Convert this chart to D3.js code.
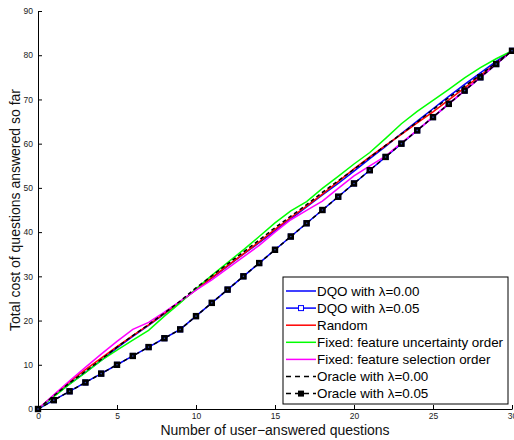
<!DOCTYPE html>
<html><head><meta charset="utf-8">
<script src="https://cdn.jsdelivr.net/npm/d3@7"></script>
<style>body{margin:0;background:#fff}svg{display:block}</style>
</head><body>
<script>
const xs = d3.range(0, 31);
const dqo00 = [0,2.9,5.7,8.3,11.0,13.8,16.4,18.9,21.5,24.2,27.0,29.6,32.3,35.0,37.6,40.3,43.0,45.7,48.4,51.0,53.8,56.6,59.4,62.3,65.1,67.9,70.7,73.4,76.0,78.6,81];
const dqo05 = [0,2,4,6,8,10,12,14,16,18,21,24,27,30,33,36,39,42,45,48,51,54,57,60,63,66,69,72,75,78,81];
const random = [0,3.1,6.2,8.9,11.5,14.1,16.6,19.0,21.6,24.2,27.0,29.7,32.4,35.1,37.8,40.6,43.3,45.9,48.6,51.4,54.3,57.0,59.6,62.1,64.7,67.2,69.9,72.6,75.4,78.2,81];
const fixedUnc = [0,2.8,5.6,8.2,11.0,13.3,15.6,17.8,21.0,24.0,27.2,30.2,33.1,36.0,39.0,42.1,44.8,46.9,49.9,52.6,55.4,58.0,61.2,64.5,67.3,69.8,72.3,74.9,77.2,79.2,81];
const fixedSel = [0,3.2,6.4,9.4,12.4,15.3,18.0,19.6,21.9,24.4,26.9,29.2,31.8,34.4,37.0,40.0,42.8,44.9,47.0,49.9,52.7,55.0,57.2,60.2,63.0,66.0,69.0,72.0,75.0,78.0,81];
const oracle00 = [0,3.0,5.9,8.5,11.2,14.0,16.6,19.1,21.7,24.4,27.4,30.1,32.8,35.5,38.2,41.0,43.6,46.2,49.0,51.6,54.2,56.9,59.6,62.2,64.9,67.7,70.4,73.0,75.6,78.3,81];
const oracle05 = [0,2,4,6,8,10,12,14,16,18,21,24,27,30,33,36,39,42,45,48,51,54,57,60,63,66,69,72,75,78,81];
const xTicks = [0,5,10,15,20,25,30];
const yTicks = [0,10,20,30,40,50,60,70,80,90];
const seriesNames = ["DQO with \u03bb=0.00","DQO with \u03bb=0.05","Random","Fixed: feature uncertainty order","Fixed: feature selection order","Oracle with \u03bb=0.00","Oracle with \u03bb=0.05"];
const xLabel = "Number of user\u2212answered questions";
const yLabel = "Total cost of questions answered so far";

const series = [
  {name: seriesNames[0], values: dqo00, color: "#0000ff", dash: null, marker: null},
  {name: seriesNames[1], values: dqo05, color: "#0000ff", dash: null, marker: "blue"},
  {name: seriesNames[2], values: random, color: "#ff0000", dash: null, marker: null},
  {name: seriesNames[3], values: fixedUnc, color: "#00ff00", dash: null, marker: null},
  {name: seriesNames[4], values: fixedSel, color: "#ff00ff", dash: null, marker: null},
  {name: seriesNames[5], values: oracle00, color: "#000000", dash: "4,3", marker: null},
  {name: seriesNames[6], values: oracle05, color: "#000000", dash: "4,3", marker: "black"}
];

const W = 514, H = 440;
const svg = d3.select("body").append("svg").attr("width", W).attr("height", H);
const x = d3.scaleLinear().domain([0, 30]).range([38, 512]);
const y = d3.scaleLinear().domain([0, 90]).range([409, 11]);
const font = "Liberation Sans, Arial, Helvetica, sans-serif";

// axes
const xAxis = d3.axisBottom(x).tickValues(xTicks).tickSizeInner(-4).tickSizeOuter(0).tickPadding(4);
const yAxis = d3.axisLeft(y).tickValues(yTicks).tickSizeInner(-4).tickSizeOuter(0).tickPadding(5);
const gx = svg.append("g").attr("transform", `translate(0,${y(0)})`).call(xAxis);
const gy = svg.append("g").attr("transform", `translate(${x(0)},0)`).call(yAxis);
[gx, gy].forEach(g => {
  g.select(".domain").attr("stroke", "#000").attr("stroke-width", 1);
  g.selectAll(".tick line").attr("stroke", "#000");
  g.selectAll(".tick text").attr("font-family", font).attr("font-size", 8.5).attr("fill", "#222");
});

svg.append("text").attr("x", (x(0) + x(30)) / 2).attr("y", 435)
  .attr("text-anchor", "middle").attr("font-family", font).attr("font-size", 14).attr("fill", "#111").text(xLabel);
svg.append("text").attr("transform", `translate(20,${(y(0) + y(90)) / 2}) rotate(-90)`)
  .attr("text-anchor", "middle").attr("font-family", font).attr("font-size", 14).attr("fill", "#111").text(yLabel);

const line = d3.line().x((d, i) => x(xs[i])).y(d => y(d));
series.forEach(s => {
  svg.append("path").datum(s.values).attr("d", line).attr("fill", "none")
    .attr("stroke", s.color).attr("stroke-width", 1.5)
    .attr("stroke-dasharray", s.dash);
  if (s.marker === "blue") {
    svg.append("g").selectAll("rect").data(s.values).join("rect")
      .attr("x", (d, i) => x(xs[i]) - 2.5).attr("y", d => y(d) - 2.5)
      .attr("width", 5).attr("height", 5).attr("fill", "none").attr("stroke", "#0000ff").attr("stroke-width", 1);
  } else if (s.marker === "black") {
    const g = svg.append("g");
    g.selectAll("rect").data(s.values).join("rect")
      .attr("x", (d, i) => x(xs[i]) - 3.2).attr("y", d => y(d) - 3.2)
      .attr("width", 6.4).attr("height", 6.4).attr("fill", "#000");
    g.selectAll("circle").data(s.values).join("circle")
      .attr("cx", (d, i) => x(xs[i])).attr("cy", d => y(d)).attr("r", 0.8).attr("fill", "#3344aa");
  }
});

// legend
const lg = svg.append("g");
const lx = 283, ly = 277, lw = 225, lh = 127;
lg.append("rect").attr("x", lx).attr("y", ly).attr("width", lw).attr("height", lh)
  .attr("fill", "#fff").attr("stroke", "#000").attr("stroke-width", 1);
series.forEach((s, i) => {
  const cy = 291 + i * 17.1;
  lg.append("line").attr("x1", lx + 3).attr("x2", lx + 33).attr("y1", cy).attr("y2", cy)
    .attr("stroke", s.color).attr("stroke-width", 1.5).attr("stroke-dasharray", s.dash ? "5,4" : null);
  if (s.marker === "blue") {
    lg.append("rect").attr("x", lx + 18 - 2.5).attr("y", cy - 2.5).attr("width", 5).attr("height", 5)
      .attr("fill", "#fff").attr("stroke", "#0000ff");
  } else if (s.marker === "black") {
    lg.append("rect").attr("x", lx + 18 - 3).attr("y", cy - 3).attr("width", 6).attr("height", 6).attr("fill", "#000");
  }
  lg.append("text").attr("x", lx + 34).attr("y", cy).attr("dy", "0.35em")
    .attr("font-family", font).attr("font-size", 13.4).attr("fill", "#000").text(s.name);
});
</script>
</body></html>
